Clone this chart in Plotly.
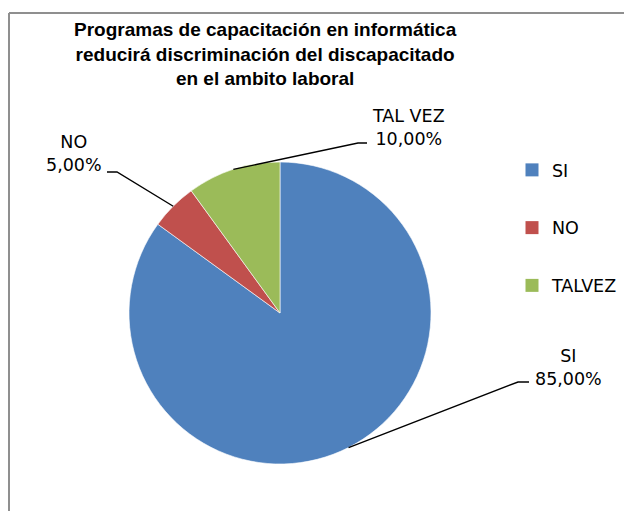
import numpy as np
import plotly.graph_objects as go

labels = ["SI", "NO", "TALVEZ"]
values = [85, 5, 10]
label_names = ["SI", "NO", "TAL VEZ"]
colors = ["#4F81BD", "#C0504D", "#9BBB59"]

title = "Programas de capacitación en informática<br>reducirá discriminación del discapacitado<br>en el ambito laboral"

# page body has an 8px margin, so the figure is drawn inside it
OFF = 8
W, H = 632 - OFF, 511 - OFF
cx, cy, r = 280, 313, 151

# label placement (page pixels): text centre, elbow of leader line, end of leader line
label_pos = [(568, 367), (74, 153), (408, 127)]
elbows = [(518, 382), (117, 172), (358, 143)]
ends = [(529, 382), (107, 172), (367, 143)]


def px(x):
    return (x - OFF) / W


def py(y):
    return 1 - (y - OFF) / H


fig = go.Figure()
fig.add_trace(go.Pie(
    labels=labels, values=values, sort=False, direction="clockwise", rotation=0,
    marker=dict(colors=colors, line=dict(color="white", width=0.6)),
    textinfo="none", hoverinfo="label+percent", showlegend=False,
    domain=dict(x=[px(cx - r), px(cx + r)], y=[py(cy + r), py(cy - r)]),
))

# legend entries
for lab, col in zip(labels, colors):
    fig.add_trace(go.Scatter(
        x=[None], y=[None], mode="markers", name=lab, legendgroup=lab,
        marker=dict(symbol="square", size=13, color=col),
    ))

# data labels with leader lines from the slice middle
total = sum(values)
cum = np.cumsum([0] + values)
shapes = []
annotations = []
for i, v in enumerate(values):
    mid = (cum[i] + v / 2) / total * 2 * np.pi
    tx = cx + r * np.sin(mid)
    ty = cy - r * np.cos(mid)
    ex, ey = elbows[i]
    fx, fy = ends[i]
    shapes.append(dict(
        type="path", xref="paper", yref="paper",
        path=f"M {px(tx)},{py(ty)} L {px(ex)},{py(ey)} L {px(fx)},{py(fy)}",
        line=dict(color="black", width=1.4),
    ))
    pct = f"{v / total * 100:.2f}".replace(".", ",") + "%"
    lx, ly = label_pos[i]
    annotations.append(dict(
        x=px(lx), y=py(ly), xref="paper", yref="paper", showarrow=False,
        text=f"{label_names[i]}<br>{pct}", align="center",
        xanchor="center", yanchor="middle",
        font=dict(family="DejaVu Sans", size=17.5, color="black"),
    ))

annotations.append(dict(
    x=px(265), y=py(54), xref="paper", yref="paper", showarrow=False,
    text=f"<b>{title}</b>", align="center", xanchor="center", yanchor="middle",
    font=dict(family="Liberation Sans", size=19, color="black"),
))

# chart area border (top and left edges visible)
shapes.append(dict(type="line", xref="paper", yref="paper",
                   x0=px(9), y0=py(13), x1=1, y1=py(13),
                   line=dict(color="#8f8f8f", width=2)))
shapes.append(dict(type="line", xref="paper", yref="paper",
                   x0=px(9), y0=py(13), x1=px(9), y1=0,
                   line=dict(color="#8f8f8f", width=2)))

fig.update_layout(
    width=W, height=H,
    margin=dict(l=0, r=0, t=0, b=0),
    paper_bgcolor="white", plot_bgcolor="white",
    xaxis=dict(visible=False), yaxis=dict(visible=False),
    shapes=shapes, annotations=annotations,
    legend=dict(x=px(512), y=py(152), xanchor="left", yanchor="top",
                font=dict(family="DejaVu Sans", size=17.5, color="black"),
                tracegroupgap=32, bgcolor="rgba(0,0,0,0)"),
    showlegend=True,
)

fig.write_html("out.html")
